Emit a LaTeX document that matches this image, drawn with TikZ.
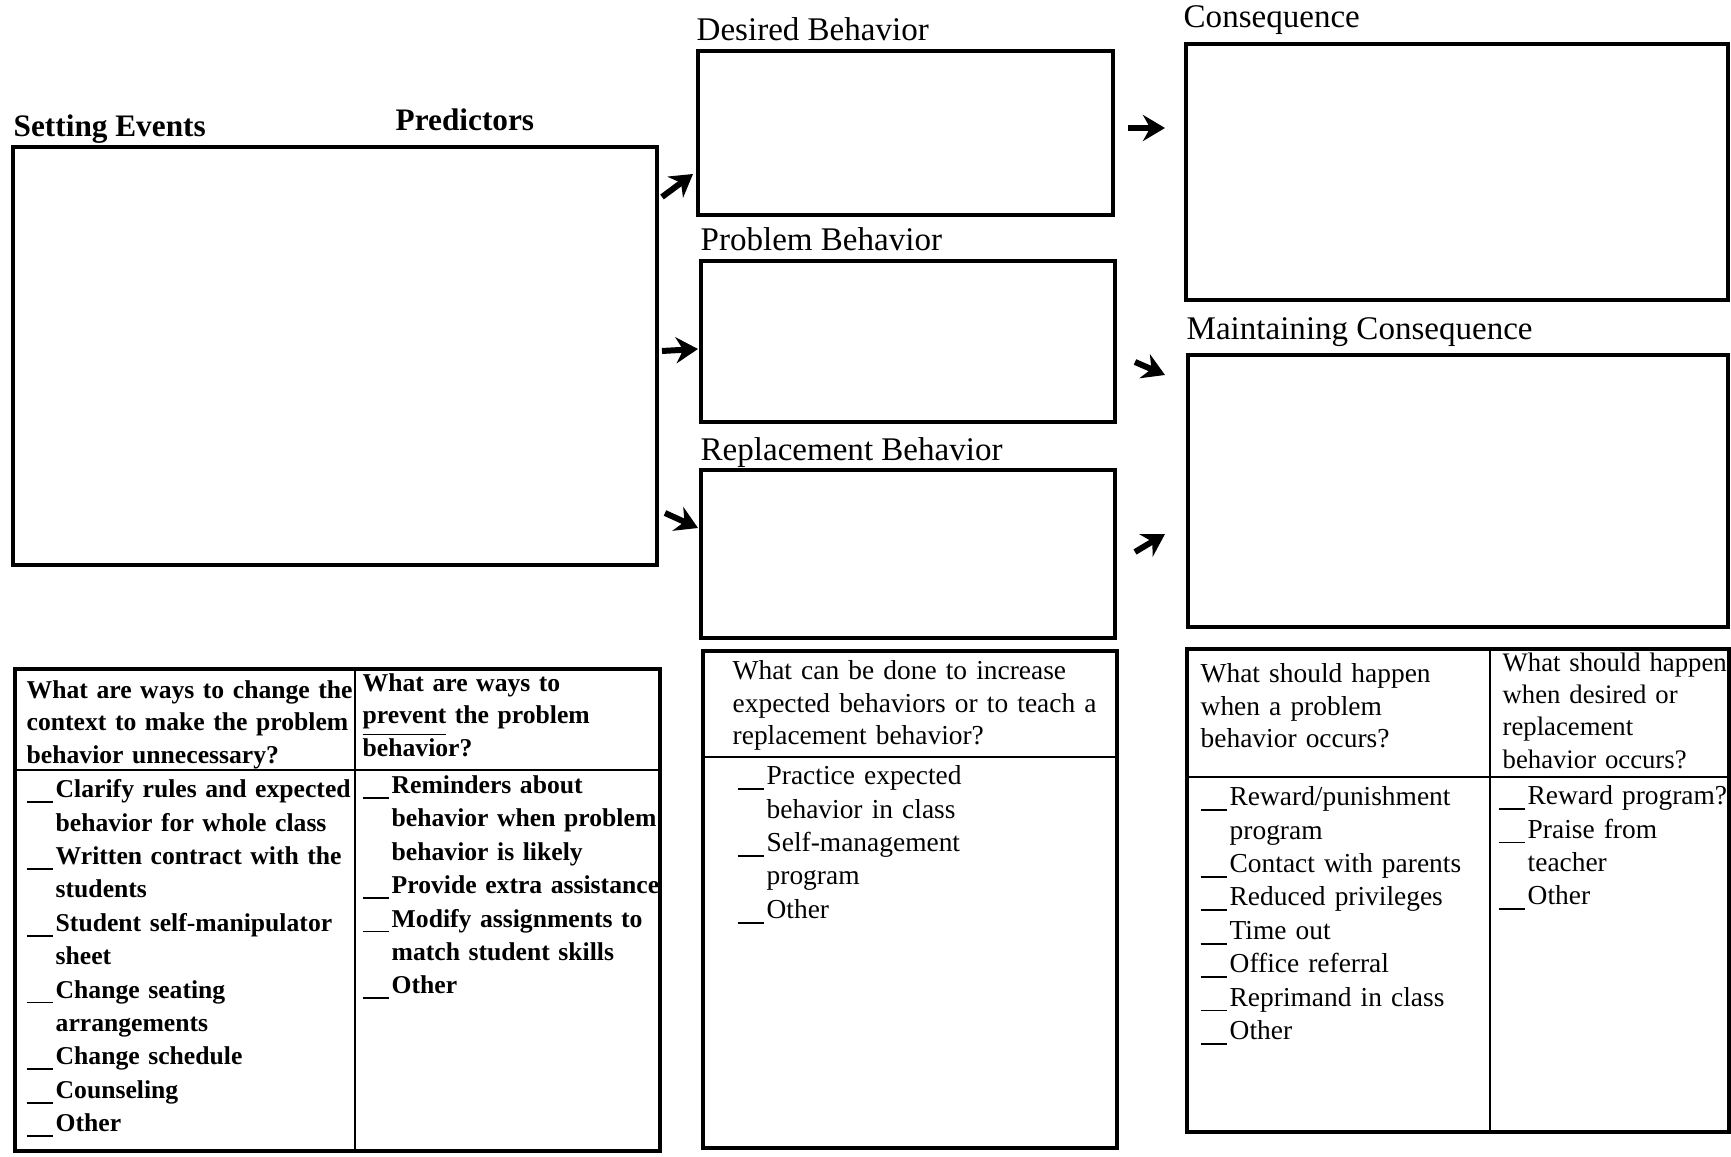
\documentclass[tikz,border=0pt]{standalone}
\usepackage{fontspec}
\setmainfont{Liberation Serif}
\usetikzlibrary{arrows.meta,positioning}

\newcommand{\chkblank}{\makebox[0.29cm][l]{\rule[-1.5pt]{0.26cm}{0.5pt}}}
\newcommand{\chkind}{\hspace*{0.29cm}}

\begin{document}
\begin{tikzpicture}[
    box/.style={draw, line width=0.034000cm, inner sep=0pt, outer sep=0pt},
    divline/.style={line width=0.022000cm},
    lbl/.style={anchor=base west, inner sep=0pt, font=\fontsize{9.4}{11}\selectfont},
    boldlbl/.style={lbl, font=\bfseries\fontsize{8.9}{11}\selectfont},
    qtext/.style={anchor=north west, inner sep=0pt, align=left, text width=3.800000cm, font=\fontsize{7.8}{9.2}\selectfont},
    itemtext/.style={qtext, font=\fontsize{7.8}{9.5}\selectfont},
    boldq/.style={qtext, font=\bfseries\fontsize{7.3}{9.2}\selectfont},
    bolditem/.style={qtext, font=\bfseries\fontsize{7.3}{9.5}\selectfont},
    arr/.style={-{Stealth[length=0.220000cm,width=0.260000cm]}, line width=0.060000cm}
  ]
  \useasboundingbox (0.000000,0.000000) rectangle (17.310000,11.570000);%

  % Setting events / predictors box
  \node [boldlbl] (setlbl) at (0.130000,10.200000) {Setting Events};%
  \node [boldlbl] (predlbl) at (3.950000,10.260000) {Predictors};%
  \node [box, minimum width=6.440000cm, minimum height=4.180000cm] (setting) at (3.350000,8.010000) {};%

  % Behavior boxes
  \node [lbl] (desiredlbl) at (6.960000,11.160000) {Desired Behavior};%
  \node [box, minimum width=4.150000cm, minimum height=1.640000cm] (desired) at (9.055000,10.240000) {};%
  \node [lbl] (problemlbl) at (7.000000,9.060000) {Problem Behavior};%
  \node [box, minimum width=4.140000cm, minimum height=1.610000cm] (problem) at (9.080000,8.155000) {};%
  \node [lbl] (replacelbl) at (7.000000,6.960000) {Replacement Behavior};%
  \node [box, minimum width=4.140000cm, minimum height=1.680000cm] (replace) at (9.080000,6.030000) {};%

  % Consequence boxes
  \node [lbl] (conslbl) at (11.830000,11.290000) {Consequence};%
  \node [box, minimum width=5.420000cm, minimum height=2.560000cm] (cons) at (14.570000,9.850000) {};%
  \node [lbl] (maintlbl) at (11.860000,8.170000) {Maintaining Consequence};%
  \node [box, minimum width=5.400000cm, minimum height=2.720000cm] (maint) at (14.580000,6.660000) {};%

  % Arrows between the columns
  \coordinate (a1s) at (6.620000,9.600000);%
  \coordinate (a1e) at (6.930000,9.830000);%
  \coordinate (a2s) at (6.620000,8.060000);%
  \coordinate (a2e) at (6.980000,8.080000);%
  \coordinate (a3s) at (6.650000,6.440000);%
  \coordinate (a3e) at (6.980000,6.290000);%
  \coordinate (a4s) at (11.280000,10.290000);%
  \coordinate (a4e) at (11.650000,10.290000);%
  \coordinate (a5s) at (11.350000,7.950000);%
  \coordinate (a5e) at (11.650000,7.820000);%
  \coordinate (a6s) at (11.350000,6.050000);%
  \coordinate (a6e) at (11.650000,6.230000);%
  \draw [arr] (a1s) -- (a1e);%
  \draw [arr] (a2s) -- (a2e);%
  \draw [arr] (a3s) -- (a3e);%
  \draw [arr] (a4s) -- (a4e);%
  \draw [arr] (a5s) -- (a5e);%
  \draw [arr] (a6s) -- (a6e);%

  % Table: context and prevention
  \node [box, minimum width=6.450000cm, minimum height=4.820000cm] (ctxtab) at (3.375000,2.470000) {};%
  \draw [divline] (ctxtab.west |- 0,3.870000) -- (ctxtab.east |- 0,3.870000);%
  \draw [divline] (ctxtab.north -| 3.550000,0) -- (ctxtab.south -| 3.550000,0);%
  \node [boldq] (ctxq) at (0.260000,4.770000) {What are ways to change the\\context to make the problem\\behavior unnecessary?};%
  \node [bolditem] (ctxitems) at (0.260000,3.780000) {\chkblank Clarify rules and expected\\
    \chkind behavior for whole class\\
    \chkblank Written contract with the\\
    \chkind students\\
    \chkblank Student self-manipulator\\
    \chkind sheet\\
    \chkblank Change seating\\
    \chkind arrangements\\
    \chkblank Change schedule\\
    \chkblank Counseling\\
    \chkblank Other};%
  \node [boldq] (prevq) at (3.620000,4.840000) {What are ways to\\\underline{prevent} the problem\\behavior?};%
  \node [bolditem] (previtems) at (3.620000,3.820000) {\chkblank Reminders about\\
    \chkind behavior when problem\\
    \chkind behavior is likely\\
    \chkblank Provide extra assistance\\
    \chkblank Modify assignments to\\
    \chkind match student skills\\
    \chkblank Other};%

  % Table: teaching
  \node [box, minimum width=4.140000cm, minimum height=4.970000cm] (teachtab) at (9.100000,2.575000) {};%
  \draw [divline] (teachtab.west |- 0,4.000000) -- (teachtab.east |- 0,4.000000);%
  \node [qtext] (teachq) at (7.320000,4.970000) {What can be done to increase\\expected behaviors or to teach a\\replacement behavior?};%
  \node [itemtext] (teachitems) at (7.370000,3.920000) {\chkblank Practice expected\\
    \chkind behavior in class\\
    \chkblank Self-management\\
    \chkind program\\
    \chkblank Other};%

  % Table: responses
  \node [box, minimum width=5.420000cm, minimum height=4.830000cm] (resptab) at (14.580000,2.665000) {};%
  \draw [divline] (resptab.west |- 0,3.800000) -- (resptab.east |- 0,3.800000);%
  \draw [divline] (resptab.north -| 14.900000,0) -- (resptab.south -| 14.900000,0);%
  \node [qtext] (probq) at (12.000000,4.940000) {What should happen\\when a problem\\behavior occurs?};%
  \node [itemtext] (probitems) at (12.000000,3.710000) {\chkblank Reward/punishment\\
    \chkind program\\
    \chkblank Contact with parents\\
    \chkblank Reduced privileges\\
    \chkblank Time out\\
    \chkblank Office referral\\
    \chkblank Reprimand in class\\
    \chkblank Other};%
  \node [qtext, font=\fontsize{7.6}{9.2}\selectfont] (goodq) at (15.020000,5.050000) {What should happen\\when desired or\\replacement\\behavior occurs?};%
  \node [itemtext] (gooditems) at (14.980000,3.720000) {\chkblank Reward program?\\
    \chkblank Praise from\\
    \chkind teacher\\
    \chkblank Other};%
\end{tikzpicture}
\end{document}
